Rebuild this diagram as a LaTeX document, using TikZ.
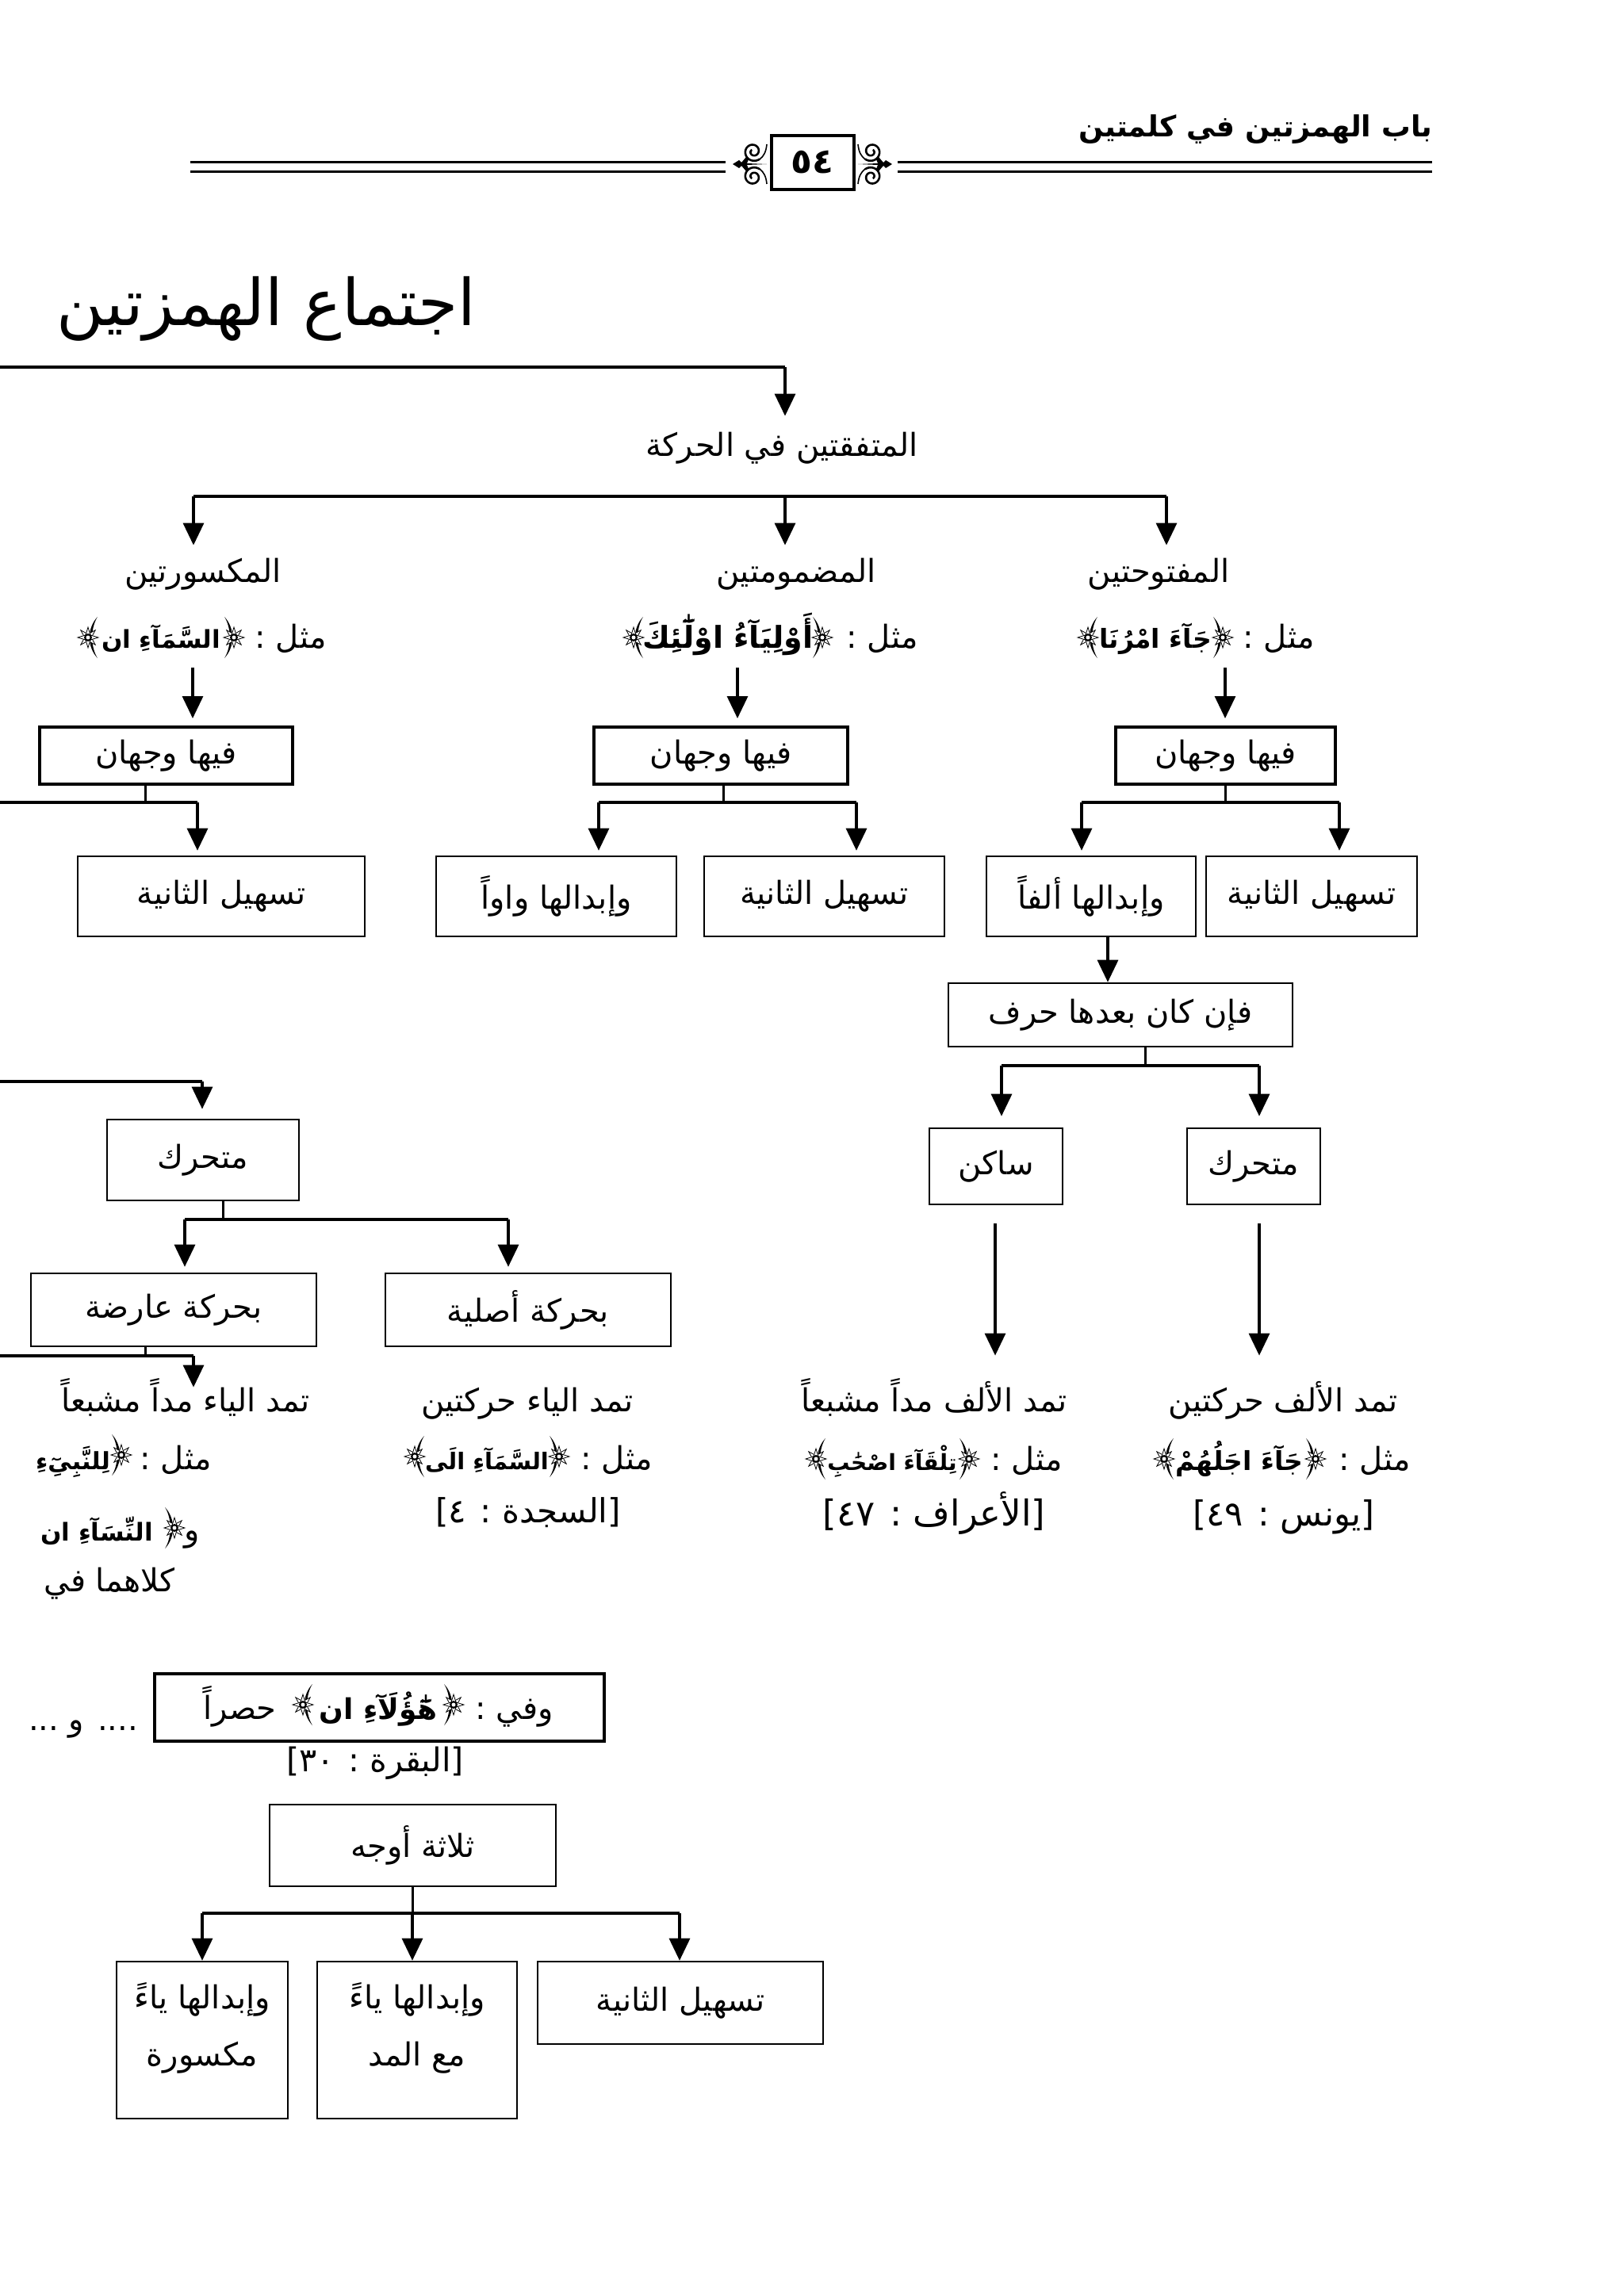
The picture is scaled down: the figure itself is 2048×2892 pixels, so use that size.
\documentclass[tikz,border=0pt]{standalone}
\usepackage{fontspec}
\usetikzlibrary{arrows.meta}
\TeXXeTstate=1
\newfontfamily\arfont[Script=Arabic]{DejaVu Sans}
\newcommand{\ar}[1]{\beginR #1\endR}
\tikzset{
	txt/.style={inner sep=0pt,text height=15pt,text depth=5pt,font=\arfont\fontsize{20}{36}\selectfont},
	stxt/.style={txt,font=\arfont\fontsize{#1}{36}\selectfont},
	qtxt/.style={txt,font=\arfont\bfseries\fontsize{#1}{36}\selectfont},
	boxa/.style={draw,line width=1.3pt,inner sep=0pt,align=center,font=\arfont\fontsize{20}{36}\selectfont},
	boxb/.style={boxa,line width=2pt},
	bar/.style={line width=2.4pt},
	rib/.style={line width=1.5pt},
	drop/.style={->,line width=1.6pt},
	% ornate bracket, the font has none
	ornate/.pic={
		\fill (-12,-26) .. controls (1.5,-12) and (1.5,12) .. (-12,26) .. controls (-3,12) and (-3,-12) .. (-12,-26);
		\foreach \a in {45,0} \draw[fill=white,line width=.4pt,rotate=\a] (13,0)--(3,3)--(0,13)--(-3,3)--(-13,0)--(-3,-3)--(0,-13)--(3,-3)--cycle;
		\fill (0,0) circle (5);
		\fill[white] (0,0) circle (2.5);
	}
}
\begin{document}
\begin{tikzpicture}[x=0.5pt,y=-0.5pt,line join=miter,line cap=butt,>={Triangle[width=13pt,length=14pt]}]
	\useasboundingbox (0,0) rectangle (2048,2892);
	% page head
	\node[txt,font=\arfont\bfseries\fontsize{18.3}{20}\selectfont,anchor=east] (head) at (1807,162) {\ar{باب الهمزتين في كلمتين}};
	\node[boxb,minimum width=52pt,minimum height=34pt,font=\arfont\bfseries\fontsize{22}{24}\selectfont] (num) at (1024.5,204.5) {\ar{٥٤}};
	\draw[line width=1.5pt] (240,204)--(915,204) (240,216)--(915,216) (1132,204)--(1806,204) (1132,216)--(1806,216);
	\foreach \sx/\cx in {1/945,-1/1104}{
		\begin{scope}[shift={(\cx,207)},xscale=\sx]
			\fill (-21,0)--(-13,-5)--(-10,-2)--(-4,-9)--(-1,-6)--(-3,-1)--(22,0)--(-3,1)--(-1,6)--(-4,9)--(-10,2)--(-13,5)--cycle;
			\foreach \sy in {1,-1}{
				\begin{scope}[yscale=\sy]
					\draw[line width=1.3pt,domain=0:1,samples=50,smooth,variable=\u] plot ({5+12.5*(1-.8*\u)*cos(50+540*\u)},{-16+12.5*(1-.8*\u)*sin(50+540*\u)});
					\draw[line width=.8pt] (22,-25) .. controls (21,-15) and (18,-10) .. (13,-6);
				\end{scope}
			}
		\end{scope}
	}
	% title
	\node[txt,text height=30pt,text depth=12pt,font=\arfont\fontsize{40.6}{44}\selectfont] (title) at (336,392) {\ar{اجتماع الهمزتين}};
	% first level
	\node[txt] (mt) at (986,565) {\ar{المتفقتين في الحركة}};
	\coordinate (top0) at (0,463);
	\coordinate (top1) at (990,463);
	\draw[bar] (top0)--(top1);
	\draw[drop,shorten >=10pt] (top1)--(top1|-mt.north);
	\node[txt] (mk) at (256,724) {\ar{المكسورتين}};
	\node[txt] (md) at (1004,724) {\ar{المضمومتين}};
	\node[txt] (mf) at (1461,724) {\ar{المفتوحتين}};
	\coordinate (ba) at (244,626);
	\coordinate (bb) at (990,626);
	\coordinate (bc) at (1471,626);
	\draw[bar] (ba)--(bc);
	\foreach \p/\q in {ba/mk,bb/md,bc/mf}
		\draw[drop,shorten >=8pt] (\p)--(\p|-\q.north);
	% examples
	\node[txt,anchor=east] (ek) at (412,807) {\ar{مثل :}};
	\node[qtxt=15.5] (qk) at (203,807) {\ar{السَّمَآءِ ان}};
	\node[txt,anchor=east] (ed) at (1158,807) {\ar{مثل :}};
	\node[qtxt=19] (qd) at (918,807) {\ar{أَوْلِيَآءُ اوْلَٰٓئِكَ}};
	\node[txt,anchor=east] (ef) at (1658,807) {\ar{مثل :}};
	\node[qtxt=16.5] (qf) at (1457,807) {\ar{جَآءَ امْرُنَا}};
	\node[boxb,minimum width=159.5pt,minimum height=36pt] (fa) at (209.5,953) {\ar{فيها وجهان}};
	\node[boxb,minimum width=160pt,minimum height=36pt] (fb) at (909,953) {\ar{فيها وجهان}};
	\node[boxb,minimum width=138.5pt,minimum height=36pt] (fc) at (1545.5,953) {\ar{فيها وجهان}};
	\coordinate (xa) at (243,842);
	\coordinate (xb) at (930,842);
	\coordinate (xc) at (1545,842);
	\foreach \p/\q in {xa/fa,xb/fb,xc/fc}
		\draw[drop,shorten >=4.5pt] (\p)--(\p|-\q.north);
	% two ways
	\node[boxa,minimum width=181pt,minimum height=50.5pt] (ta) at (279,1130.5) {\ar{تسهيل الثانية}};
	\node[boxa,minimum width=151.5pt,minimum height=50.5pt] (wb) at (701.5,1130.5) {\ar{وإبدالها واواً}};
	\node[boxa,minimum width=151.5pt,minimum height=50.5pt] (tb) at (1039.5,1130.5) {\ar{تسهيل الثانية}};
	\node[boxa,minimum width=132pt,minimum height=50.5pt] (wc) at (1376,1130.5) {\ar{وإبدالها ألفاً}};
	\node[boxa,minimum width=133pt,minimum height=50.5pt] (tc) at (1654,1130.5) {\ar{تسهيل الثانية}};
	\coordinate (sa) at (183,1012);
	\coordinate (sb) at (912,1012);
	\coordinate (sc) at (1545,1012);
	\draw[rib] (sa|-fa.south)--(sa);
	\draw[rib] (sb|-fb.south)--(sb);
	\draw[rib] (sc|-fc.south)--(sc);
	\coordinate (la0) at (0,1012);
	\coordinate (la1) at (249,1012);
	\coordinate (lb0) at (755,1012);
	\coordinate (lb1) at (1080,1012);
	\coordinate (lc0) at (1364,1012);
	\coordinate (lc1) at (1689,1012);
	\draw[line width=1.8pt] (la0)--(la1) (lb0)--(lb1) (lc0)--(lc1);
	\foreach \p/\q in {la1/ta,lb0/wb,lb1/tb,lc0/wc,lc1/tc}
		\draw[drop,shorten >=3pt] (\p)--(\p|-\q.north);
	% right branch
	\node[boxa,minimum width=217pt,minimum height=40pt] (fn) at (1413,1280) {\ar{فإن كان بعدها حرف}};
	\coordinate (wn) at (1397,1181);
	\draw[drop] (wn)--(wn|-fn.north);
	\node[boxa,minimum width=84pt,minimum height=48pt] (sk) at (1256,1471) {\ar{ساكن}};
	\node[boxa,minimum width=84pt,minimum height=48pt] (mh) at (1581,1471) {\ar{متحرك}};
	\coordinate (se) at (1444,1344);
	\draw[rib] (se|-fn.south)--(se);
	\coordinate (le0) at (1263,1344);
	\coordinate (le1) at (1588,1344);
	\draw[line width=1.8pt] (le0)--(le1);
	\draw[drop,shorten >=7pt] (le0)--(le0|-sk.north);
	\draw[drop,shorten >=7pt] (le1)--(le1|-mh.north);
	\node[txt] (hs) at (1178,1770) {\ar{تمد الألف مداً مشبعاً}};
	\node[txt] (hh) at (1618,1770) {\ar{تمد الألف حركتين}};
	\node[txt,anchor=east] (es) at (1340,1844) {\ar{مثل :}};
	\node[qtxt=14] (qs) at (1125,1844) {\ar{تِلْقَآءَ اصْحَٰبِ}};
	\node[txt,anchor=east] (eh) at (1779,1844) {\ar{مثل :}};
	\node[qtxt=16.5] (qh) at (1563,1844) {\ar{جَآءَ اجَلُهُمْ}};
	\node[stxt=22.5] (rs) at (1178,1914) {\ar{[الأعراف : ٤٧]}};
	\node[stxt=21.7] (rh) at (1619,1914) {\ar{[يونس : ٤٩]}};
	\coordinate (ds) at (1255,1519);
	\coordinate (dh) at (1588,1519);
	\draw[drop,shorten <=12pt,shorten >=20pt] (ds)--(ds|-hs.north);
	\draw[drop,shorten <=12pt,shorten >=20pt] (dh)--(dh|-hh.north);
	% left branch
	\node[boxa,minimum width=121pt,minimum height=51pt] (lm) at (256,1463) {\ar{متحرك}};
	\coordinate (lm0) at (0,1364);
	\coordinate (lm1) at (255,1364);
	\draw[line width=1.8pt] (lm0)--(lm1);
	\draw[drop,shorten >=6pt] (lm1)--(lm1|-lm.north);
	\node[boxa,minimum width=180pt,minimum height=46pt] (ba1) at (219,1652) {\ar{بحركة عارضة}};
	\node[boxa,minimum width=180pt,minimum height=46pt] (ba2) at (666,1652) {\ar{بحركة أصلية}};
	\coordinate (sm) at (281,1538);
	\draw[rib] (sm|-lm.south)--(sm);
	\coordinate (lh0) at (233,1538);
	\coordinate (lh1) at (641,1538);
	\draw[line width=1.8pt] (lh0)--(lh1);
	\draw[drop,shorten >=3.5pt] (lh0)--(lh0|-ba1.north);
	\draw[drop,shorten >=3.5pt] (lh1)--(lh1|-ba2.north);
	\node[txt] (ha) at (234,1770) {\ar{تمد الياء مداً مشبعاً}};
	\node[txt] (hb) at (665,1770) {\ar{تمد الياء حركتين}};
	\node[txt,anchor=east] (ea) at (267,1843) {\ar{مثل :}};
	\node[qtxt=15] (qa) at (92,1843) {\ar{لِلنَّبِىِٓءِ}};
	\node[txt,anchor=east] (eb) at (823,1843) {\ar{مثل :}};
	\node[qtxt=14.5] (qb) at (614,1843) {\ar{السَّمَآءِ الَى}};
	\node[stxt=21] (rb) at (666,1910) {\ar{[السجدة : ٤]}};
	\node[txt,anchor=east] (ew) at (252,1933) {\ar{و}};
	\node[qtxt=15.5] (qw) at (122,1933) {\ar{النِّسَآءِ ان}};
	\node[txt] (kl) at (138,1997) {\ar{كلاهما في}};
	\coordinate (sr) at (183,1710);
	\coordinate (lr0) at (0,1710);
	\coordinate (lr1) at (244,1710);
	\draw[rib] (sr|-ba1.south)--(sr);
	\draw[line width=1.8pt] (lr0)--(lr1);
	\draw[drop] (lr1)--(lr1|-ha.north);
	% lower block
	\node[boxb,minimum width=283.5pt,minimum height=42.5pt] (wf) at (478.5,2153.5) {};
	\node[txt,anchor=east] (wi) at (698,2158) {\ar{وفي :}};
	\node[qtxt=18] (qi) at (477,2158) {\ar{هَٰٓؤُلَآءِ ان}};
	\node[txt,anchor=east] (hr) at (349,2158) {\ar{حصراً}};
	\node[txt] (dt) at (105,2172) {\ar{.... و ...}};
	\node[stxt=20.7] (rq) at (473,2224) {\ar{[البقرة : ٣٠]}};
	% ornate brackets round the verses
	\foreach \x/\y in {295/804,1037/804,1542/804,1222/1840,1659/1840,153/1835,705/1837,220/1927,572/2150}
		\pic at (\x,\y) {ornate};
	\foreach \x/\y in {111/804,799/804,1372/804,1029/1840,1468/1840,523/1837,382/2150}
		\pic[xscale=-1] at (\x,\y) {ornate};
	% three ways
	\node[boxa,minimum width=180.5pt,minimum height=51.5pt] (th) at (520.5,2327.5) {\ar{ثلاثة أوجه}};
	\node[boxa,minimum width=108pt,minimum height=99pt,text depth=20pt] (ka) at (255,2573) {\ar{وإبدالها ياءً}\\\ar{مكسورة}};
	\node[boxa,minimum width=126pt,minimum height=99pt,text depth=20pt] (kb) at (526,2573) {\ar{وإبدالها ياءً}\\\ar{مع المد}};
	\node[boxa,minimum width=180pt,minimum height=52pt] (kc) at (858,2526) {\ar{تسهيل الثانية}};
	\coordinate (st) at (520,2413);
	\coordinate (lt0) at (255,2413);
	\coordinate (lt1) at (857,2413);
	\draw[rib] (st|-th.south)--(st);
	\draw[bar] (lt0)--(lt1);
	\draw[drop] (lt0)--(lt0|-ka.north);
	\draw[drop] (st)--(st|-kb.north);
	\draw[drop] (lt1)--(lt1|-kc.north);
\end{tikzpicture}
\end{document}
